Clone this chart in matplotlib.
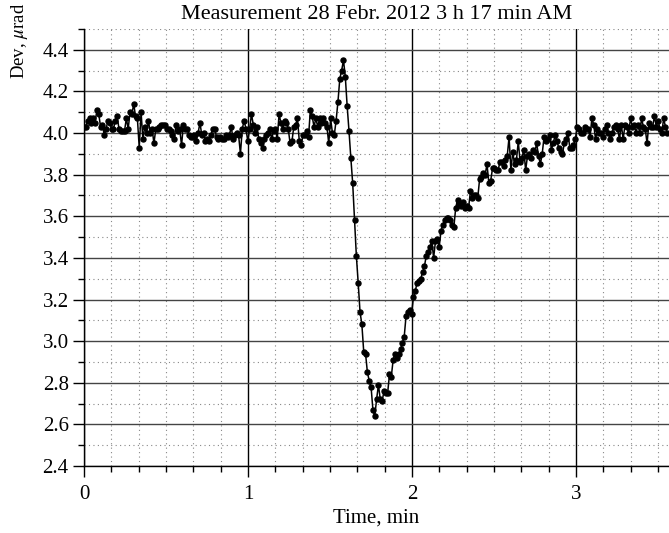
import matplotlib
matplotlib.use("Agg")
import matplotlib.pyplot as plt
import numpy as np
from matplotlib.ticker import MultipleLocator

plt.rcParams["font.family"] = ["Liberation Serif", "DejaVu Serif"]
plt.rcParams["mathtext.fontset"] = "stix"

# sampling interval of the recording, minutes
dt_min = 0.01122

# deviation readings, microradians
dev_urad = [
    4.03, 4.03, 4.06, 4.07, 4.05, 4.07, 4.05, 4.11, 4.09, 4.03,
    4.04, 3.99, 4.02, 4.06, 4.05, 4.02, 4.02, 4.06, 4.08, 4.02,
    4.01, 4.01, 4.01, 4.07, 4.02, 4.10, 4.09, 4.14, 4.08, 4.07,
    3.93, 4.10, 3.97, 4.03, 4.00, 4.06, 4.00, 4.02, 3.95, 4.02,
    4.02, 4.03, 4.04, 4.04, 4.04, 4.02, 4.02, 4.01, 3.99, 3.97,
    4.04, 4.01, 4.02, 3.94, 4.04, 4.02, 4.02, 3.99, 3.98, 3.98,
    3.99, 3.96, 4.00, 4.05, 3.99, 4.00, 3.96, 3.97, 3.96, 3.99,
    4.02, 4.02, 3.98, 3.97, 3.98, 3.97, 3.97, 3.99, 3.98, 3.99,
    4.03, 3.97, 3.99, 4.00, 3.99, 3.90, 4.02, 4.06, 4.02, 3.96,
    4.02, 4.09, 4.04, 4.00, 4.03, 3.97, 3.95, 3.93, 3.97, 3.99,
    4.00, 4.02, 3.97, 4.01, 4.02, 3.97, 4.09, 4.05, 4.02, 4.06,
    4.05, 4.02, 3.95, 3.96, 4.03, 4.04, 4.07, 3.96, 3.94, 3.99,
    3.99, 4.01, 3.98, 4.11, 4.08, 4.03, 4.07, 4.03, 4.07, 4.05,
    4.07, 4.05, 4.03, 3.95, 4.07, 4.00, 3.99, 4.06, 4.15, 4.26,
    4.30, 4.35, 4.27, 4.13, 4.01, 3.88, 3.76, 3.58, 3.41, 3.28,
    3.14, 3.08, 2.95, 2.94, 2.85, 2.81, 2.78, 2.67, 2.64, 2.72,
    2.79, 2.72, 2.71, 2.76, 2.75, 2.75, 2.84, 2.83, 2.91, 2.94,
    2.92, 2.94, 2.96, 2.99, 3.02, 3.12, 3.14, 3.15, 3.13, 3.21,
    3.24, 3.28, 3.29, 3.30, 3.33, 3.36, 3.41, 3.43, 3.45, 3.48,
    3.40, 3.48, 3.49, 3.45, 3.53, 3.56, 3.58, 3.59, 3.59, 3.58,
    3.56, 3.55, 3.64, 3.68, 3.66, 3.65, 3.67, 3.64, 3.65, 3.64,
    3.72, 3.69, 3.70, 3.70, 3.69, 3.78, 3.79, 3.81, 3.80, 3.85,
    3.76, 3.77, 3.83, 3.83, 3.82, 3.82, 3.86, 3.86, 3.84, 3.87,
    3.89, 3.98, 3.82, 3.91, 3.85, 3.87, 3.96, 3.86, 3.88, 3.92,
    3.82, 3.89, 3.90, 3.88, 3.92, 3.91, 3.95, 3.89, 3.85, 3.90,
    3.98, 3.96, 3.97, 3.99, 3.92, 3.95, 3.99, 3.96, 3.93, 3.91,
    3.90, 3.95, 3.97, 4.00, 3.93, 3.93, 3.94, 3.97, 4.03, 4.02,
    4.00, 4.00, 4.03, 4.02, 4.02, 3.98, 4.07, 4.04, 3.97, 4.02,
    4.00, 4.00, 3.98, 4.02, 4.04, 4.00, 3.97, 4.00, 4.03, 4.04,
    4.02, 3.97, 4.04, 3.97, 4.04, 4.03, 4.00, 4.07, 4.03, 4.04,
    4.00, 4.04, 4.00, 4.07, 4.03, 4.02, 3.95, 4.05, 4.03, 4.03,
    4.08, 4.03, 4.06, 4.02, 4.00, 4.07, 4.03, 4.00,
]

time_min = np.arange(len(dev_urad)) * dt_min

fig = plt.figure(figsize=(6.69, 5.33), dpi=100)
ax = fig.add_axes([0.1256, 0.1257, 0.8744, 0.82])

ax.plot(time_min, dev_urad, color="black", lw=1.1, marker="o", ms=3.6,
        mfc="black", mec="black", zorder=3)

ax.set_xlim(0, 3.567)
ax.set_ylim(2.4, 4.5)
ax.xaxis.set_major_locator(MultipleLocator(1))
ax.xaxis.set_minor_locator(MultipleLocator(1 / 6))
ax.yaxis.set_minor_locator(MultipleLocator(0.1))
yticks = np.arange(2.4, 4.41, 0.2)
ax.set_yticks(yticks)
ax.set_yticklabels([f"{v:.1f}" for v in yticks])

ax.grid(which="major", axis="x", color="black", lw=1.0)
ax.grid(which="major", axis="y", color="#444444", lw=1.0)
ax.grid(which="minor", axis="both", color="#888888", lw=0.8, linestyle=(0, (1, 3)))
ax.set_axisbelow(True)

for side in ("top", "right"):
    ax.spines[side].set_visible(False)
ax.spines["left"].set_linewidth(1.0)
ax.spines["bottom"].set_linewidth(1.0)

ax.tick_params(which="major", direction="out", length=8, width=1.0, labelsize=15)
ax.tick_params(axis="y", which="major", pad=3)
ax.tick_params(axis="x", which="major", pad=6)
ax.tick_params(which="minor", direction="out", length=4, width=1.0)

ax.set_title("Measurement 28 Febr. 2012 3 h 17 min AM", fontsize=16, pad=7)
ax.set_xlabel("Time, min", fontsize=15, labelpad=3)
ax.set_ylabel(r"Dev, $\mu$rad", fontsize=13.5)
ax.yaxis.set_label_coords(-0.092, 0.972)

fig.savefig("out.png", dpi=100)
